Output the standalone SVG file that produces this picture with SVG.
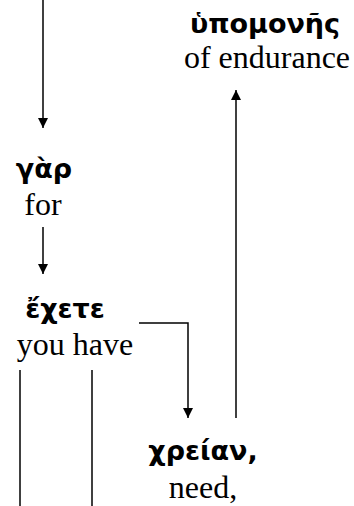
<svg xmlns="http://www.w3.org/2000/svg" width="354" height="506" viewBox="0 0 354 506">
<style>
.gk{font-family:"DejaVu Sans","Noto Sans",sans-serif;font-weight:bold;font-size:27px;fill:#000;text-anchor:middle}
.en{font-family:"Liberation Serif","Times New Roman","DejaVu Serif",serif;font-size:32px;fill:#000;text-anchor:middle}
.ln{stroke:#000;stroke-width:1.5;fill:none}
</style>
<defs>
<marker id="ah" viewBox="0 0 10 12" refX="10" refY="6" markerWidth="10" markerHeight="12" markerUnits="userSpaceOnUse" orient="auto">
<path d="M0,1 L10,6 L0,11 Z" fill="#000"/>
</marker>
</defs>
<rect width="354" height="506" fill="#fff"/>
<g id="connectors">
<line class="ln" x1="43" y1="0" x2="43" y2="128" marker-end="url(#ah)"/>
<line class="ln" x1="43" y1="227" x2="43" y2="274" marker-end="url(#ah)"/>
<polyline class="ln" points="139,323 188,323 188,418" marker-end="url(#ah)"/>
<line class="ln" x1="236" y1="418" x2="236" y2="90" marker-end="url(#ah)"/>
<line class="ln" x1="20" y1="370" x2="20" y2="506"/>
<line class="ln" x1="92" y1="370" x2="92" y2="506"/>
</g>
<g id="node-hypomones">
<text class="gk" x="265" y="33">ὑπομονῆς</text>
<text class="en" x="267" y="68">of endurance</text>
</g>
<g id="node-gar">
<text class="gk" x="44" y="178">γὰρ</text>
<text class="en" x="43" y="215">for</text>
</g>
<g id="node-echete">
<text class="gk" x="65" y="318">ἔχετε</text>
<text class="en" x="75" y="355">you have</text>
</g>
<g id="node-chreian">
<text class="gk" x="203" y="460">χρείαν,</text>
<text class="en" x="203" y="498">need,</text>
</g>
</svg>
